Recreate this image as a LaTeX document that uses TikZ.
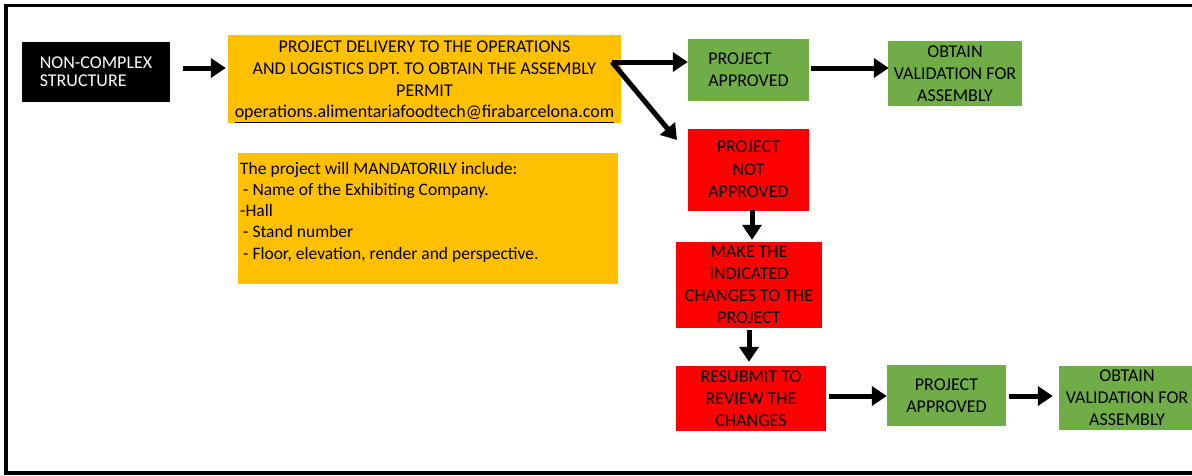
\documentclass[tikz,border=0pt]{standalone}
\usepackage{fontspec}
\setmainfont{Carlito}
\usetikzlibrary{arrows.meta}
\definecolor{orng}{HTML}{FFC000}
\definecolor{grn}{HTML}{70AD47}
\definecolor{rd}{HTML}{FF0000}
\tikzset{
  box/.style={inner sep=0pt, align=center, text=black,
    font={\fontsize{18}{22}\selectfont}},
  blk/.style={box, fill=black, text=white, align=left,
    font={\fontsize{18}{18.3}\selectfont}},
  obox/.style={box, fill=orng},
  gbox/.style={box, fill=grn},
  rbox/.style={box, fill=rd},
  arr/.style={line width=5pt, -{Triangle[length=15pt,width=19pt]}},
}
\begin{document}
\begin{tikzpicture}[x=1pt,y=-1pt]
\useasboundingbox (0,0) rectangle (1192,475);
\clip (0,0) rectangle (1192,475);
% frame
\draw[line width=3.5pt] (1200,5.5) -- (6,5.5) -- (6,473) -- (1200,473);

% nodes
\node[blk, minimum width=148pt, minimum height=60pt] (ncs) at (96,71.5) {NON-COMPLEX\\STRUCTURE};
\node[obox, minimum width=393pt, minimum height=88pt] (deliv) at (424.5,79) {};
\node[box, font={\fontsize{18}{21.7}\selectfont}] (delivtext) at (424.5,82)
  {PROJECT DELIVERY TO THE OPERATIONS\\AND LOGISTICS DPT. TO OBTAIN THE ASSEMBLY\\PERMIT\\\underline{operations.alimentariafoodtech@firabarcelona.com}};
\node[obox, minimum width=380pt, minimum height=131pt] (mand) at (428,218.5) {};
\node[box, anchor=north west, align=left, font={\fontsize{17.5}{21.2}\selectfont}] (mandtext) at (240,162)
  {The project will MANDATORILY include:\\
   \hspace*{3pt}- Name of the Exhibiting Company.\\
   -Hall\\
   \hspace*{3pt}- Stand number\\
   \hspace*{3pt}- Floor, elevation, render and perspective.};
\node[gbox, align=left, minimum width=121pt, minimum height=62pt] (appr1) at (748.5,70) {PROJECT\\APPROVED};
\node[gbox, minimum width=134pt, minimum height=65pt] (valid1) at (955,73.5) {OBTAIN\\VALIDATION FOR\\ASSEMBLY};
\node[rbox, minimum width=121pt, minimum height=82pt, font={\fontsize{18}{22.5}\selectfont}] (notappr) at (748.5,169.5) {PROJECT\\NOT\\APPROVED};
\node[rbox, minimum width=146pt, minimum height=86pt] (changes) at (749,285) {MAKE THE\\INDICATED\\CHANGES TO THE\\PROJECT};
\node[rbox, minimum width=150pt, minimum height=65pt] (resub) at (751,398.5) {RESUBMIT TO\\REVIEW THE\\CHANGES};
\node[gbox, minimum width=119pt, minimum height=61pt] (appr2) at (946.5,395.5) {PROJECT\\APPROVED};
\node[gbox, minimum width=136pt, minimum height=64pt] (valid2) at (1127,398) {OBTAIN\\VALIDATION FOR\\ASSEMBLY};

% connectors
\coordinate (a1s) at (183,68);
\draw[arr, shorten >=2pt] (a1s) -- (deliv.west |- a1s);
\coordinate (split) at (612,62);
\draw[arr] (split) -- (appr1.west |- split);
\coordinate (diagend) at (677,140);
\draw[arr] (split) -- (diagend);
\coordinate (a4s) at (811,68);
\draw[arr, shorten >=-1pt] (a4s) -- (valid1.west |- a4s);
\coordinate (a5s) at (752,210);
\draw[arr, shorten >=2pt] (a5s) -- (a5s |- changes.north);
\coordinate (a6s) at (749,330);
\draw[arr, shorten >=4pt] (a6s) -- (a6s |- resub.north);
\coordinate (a7s) at (829,396);
\draw[arr] (a7s) -- (appr2.west |- a7s);
\coordinate (a8s) at (1009,396);
\draw[arr, shorten >=6pt] (a8s) -- (valid2.west |- a8s);
\end{tikzpicture}
\end{document}
